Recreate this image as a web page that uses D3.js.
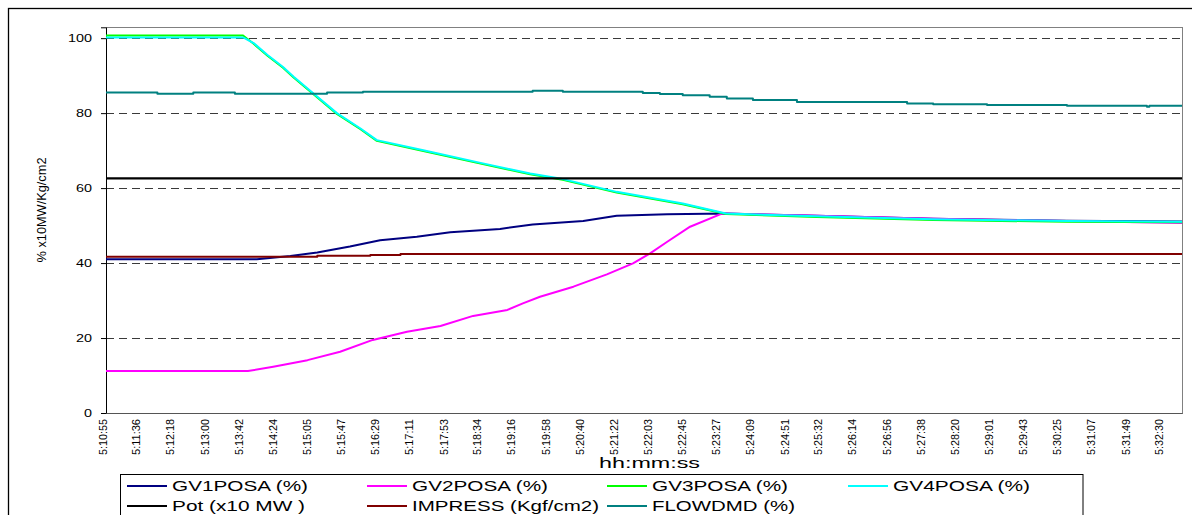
<!DOCTYPE html>
<html>
<head>
<meta charset="utf-8">
<script src="https://cdn.jsdelivr.net/npm/d3@7"></script>
<style>
  html, body { margin: 0; padding: 0; background: #fff; }
  svg { display: block; font-family: "Liberation Sans", Arial, sans-serif; }
</style>
</head>
<body>
<script>
// ---------------- DATA ----------------
const tickTimes = ["5:10:55","5:11:36","5:12:18","5:13:00","5:13:42","5:14:24","5:15:05","5:15:47",
  "5:16:29","5:17:11","5:17:53","5:18:34","5:19:16","5:19:58","5:20:40","5:21:22","5:22:03","5:22:45",
  "5:23:27","5:24:09","5:24:51","5:25:32","5:26:14","5:26:56","5:27:38","5:28:20","5:29:01","5:29:43",
  "5:30:25","5:31:07","5:31:49","5:32:30"];
const timeEnd = "5:32:54";
const yTicks = [0, 20, 40, 60, 80, 100];
const yMax = 102.9;

const gv1Times  = ["5:10:55","5:14:00","5:14:41","5:15:14","5:15:54","5:16:31","5:17:16","5:17:57","5:18:58","5:19:38","5:20:40","5:21:21","5:22:23","5:23:35","5:25:26","5:27:49","5:30:33","5:32:54"];
const gv1Values = [41.0,     41.0,     41.9,     42.8,     44.4,     46.1,     47.0,     48.2,     49.1,     50.3,     51.2,     52.6,     53.0,     53.2,     52.6,     51.8,     51.3,     51.1];

const gv2Times  = ["5:10:55","5:13:49","5:14:20","5:15:02","5:15:42","5:16:22","5:17:04","5:17:45","5:18:25","5:19:07","5:19:26","5:19:47","5:20:28","5:21:09","5:21:41","5:22:02","5:22:23","5:22:51","5:23:30","5:25:26","5:27:49","5:30:33","5:32:54"];
const gv2Values = [11.2,     11.2,     12.35,    14.1,     16.35,    19.5,     21.7,     23.2,     25.9,     27.5,     29.25,    31.0,     33.7,     37.0,     39.9,     42.6,     45.7,     49.7,     53.2,     52.6,     51.8,     51.2,     50.7];

const gv3Times  = ["5:10:55","5:13:43","5:13:56","5:14:13","5:14:32","5:14:45","5:15:09","5:15:38","5:16:07","5:16:27","5:17:24","5:18:37","5:19:35","5:20:15","5:21:21","5:22:42","5:23:35","5:25:26","5:27:49","5:30:33","5:32:54"];
const gv3Values = [100.7,    100.7,    98.5,     95.3,     92.1,     89.5,     85.1,     79.8,     75.7,     72.6,     69.9,     66.4,     63.7,     62.2,     58.8,     55.7,     53.1,     52.3,     51.5,     51.0,     50.9];

const gv4Times  = ["5:10:55","5:13:43","5:13:56","5:14:13","5:14:32","5:14:45","5:15:09","5:15:38","5:16:07","5:16:27","5:17:24","5:18:37","5:19:35","5:20:15","5:21:21","5:22:42","5:23:35","5:25:26","5:27:49","5:30:33","5:32:54"];
const gv4Values = [100.2,    100.2,    98.7,     95.5,     92.3,     89.7,     85.3,     80.0,     75.9,     72.8,     70.1,     66.6,     63.9,     62.4,     59.0,     55.9,     53.2,     52.5,     51.7,     51.2,     51.0];

const potTimes  = ["5:10:55","5:32:54"];
const potValues = [62.6,     62.6];

const impressTimes  = ["5:10:55","5:15:14","5:16:19","5:16:56","5:32:54"];
const impressValues = [41.7,     41.95,    42.15,    42.45,    42.45];

const flowTimes  = ["5:10:55","5:11:58","5:12:42","5:13:33","5:15:26","5:16:10","5:19:38","5:20:15","5:21:53","5:22:14","5:22:42","5:23:15","5:23:36","5:24:08","5:25:02","5:27:17","5:27:49","5:28:55","5:30:33","5:32:11","5:32:14","5:32:54"];
const flowValues = [85.5,     85.15,    85.5,     85.15,    85.5,     85.7,     85.95,    85.7,     85.4,     85.1,     84.8,     84.4,     83.9,     83.5,     83.0,     82.6,     82.4,     82.2,     81.95,    81.7,     81.95,    81.95];

const seriesNames  = ["GV1POSA (%)","GV2POSA (%)","GV3POSA (%)","GV4POSA (%)","Pot (x10 MW )","IMPRESS (Kgf/cm2)","FLOWDMD (%)"];
const seriesColors = ["#000080","#FF00FF","#00FF00","#00FFFF","#000000","#800000","#008080"];

// ---------------- HELPERS ----------------
function secs(s) { const p = s.split(":").map(Number); return p[0]*3600 + p[1]*60 + p[2]; }
function zip(ts, vs) { return ts.map((t, i) => ({ t: secs(t), v: vs[i] })); }

const series = [
  { data: zip(gv1Times, gv1Values), curve: d3.curveLinear },
  { data: zip(gv2Times, gv2Values), curve: d3.curveLinear },
  { data: zip(gv3Times, gv3Values), curve: d3.curveLinear },
  { data: zip(gv4Times, gv4Values), curve: d3.curveLinear },
  { data: zip(potTimes, potValues), curve: d3.curveLinear },
  { data: zip(impressTimes, impressValues), curve: d3.curveStepAfter },
  { data: zip(flowTimes, flowValues), curve: d3.curveStepAfter }
];

// ---------------- LAYOUT ----------------
const W = 1192, H = 515;
const PL = 106, PR = 1182, PT = 27.3, PB = 413;

const svg = d3.select("body").append("svg").attr("width", W).attr("height", H);

// outer chart border
svg.append("rect").attr("x", 8.5).attr("y", 8.5).attr("width", 1200).attr("height", 600)
  .attr("fill", "#fff").attr("stroke", "#000").attr("stroke-width", 1.3);

const x = d3.scaleLinear().domain([secs(tickTimes[0]), secs(timeEnd)]).range([PL, PR]);
const y = d3.scaleLinear().domain([0, yMax]).range([PB, PT]);

// plot area border
svg.append("rect").attr("x", PL + 0.5).attr("y", Math.round(PT) + 0.5)
  .attr("width", PR - PL).attr("height", PB - Math.round(PT))
  .attr("fill", "#fff").attr("stroke", "#808080").attr("stroke-width", 1);

// gridlines
svg.append("g").selectAll("line").data(yTicks.filter(d => d > 0)).join("line")
  .attr("x1", PL).attr("x2", PR)
  .attr("y1", d => Math.round(y(d)) + 0.5).attr("y2", d => Math.round(y(d)) + 0.5)
  .attr("stroke", "#3a3a3a").attr("stroke-width", 1).attr("stroke-dasharray", "8,5");

// y axis
const yAxis = svg.append("g").attr("transform", `translate(${PL},0)`)
  .call(d3.axisLeft(y).tickValues(yTicks).tickSize(5).tickPadding(9).tickFormat(d3.format("d")));
yAxis.select(".domain").attr("stroke", "#000");
yAxis.selectAll(".tick line").attr("stroke", "#000");
yAxis.selectAll(".tick text")
  .attr("font-family", "Liberation Sans, Arial, sans-serif").attr("font-size", 11).attr("fill", "#000")
  .attr("textLength", d => String(d).length * 8).attr("lengthAdjust", "spacingAndGlyphs");

// x axis
const xAxis = svg.append("g").attr("transform", `translate(0,${PB})`)
  .call(d3.axisBottom(x).tickValues(tickTimes.map(secs)).tickSize(0)
    .tickFormat((d, i) => tickTimes[i]));
xAxis.select(".domain").attr("stroke", "#555");
xAxis.selectAll(".tick text")
  .attr("font-family", "Liberation Sans, Arial, sans-serif").attr("font-size", 10.5).attr("fill", "#000")
  .attr("transform", "rotate(-90)")
  .attr("text-anchor", "end")
  .attr("x", -6).attr("y", -3.5).attr("dy", "0.35em")
  .attr("textLength", 36).attr("lengthAdjust", "spacingAndGlyphs");

// axis titles
svg.append("text").attr("x", 649.5).attr("y", 468).attr("text-anchor", "middle")
  .attr("font-size", 15).attr("fill", "#000")
  .attr("textLength", 101).attr("lengthAdjust", "spacingAndGlyphs").text("hh:mm:ss");

svg.append("text").attr("transform", "translate(46,210) rotate(-90)").attr("text-anchor", "middle")
  .attr("font-size", 12).attr("fill", "#000")
  .attr("textLength", 105).attr("lengthAdjust", "spacingAndGlyphs").text("% x10MW/Kg/cm2");

// series lines
const plot = svg.append("g");
series.forEach((s, i) => {
  plot.append("path").datum(s.data)
    .attr("fill", "none").attr("stroke", seriesColors[i])
    .attr("stroke-width", i === 4 ? 2.2 : 2).attr("stroke-linejoin", "round")
    .attr("d", d3.line().x(d => x(d.t)).y(d => y(d.v)).curve(s.curve));
});

// legend
const legend = svg.append("g");
legend.append("rect").attr("x", 120.5).attr("y", 474.5).attr("width", 962.5).attr("height", 80)
  .attr("fill", "#fff").attr("stroke", "#000").attr("stroke-width", 1);
const legCols = [127, 367, 607, 848];
const legTextLen = [136, 136, 136, 137, 133, 187, 143];
const legOrder = [[0, 0, 0], [1, 1, 0], [2, 2, 0], [3, 3, 0], [4, 0, 1], [5, 1, 1], [6, 2, 1]];
legOrder.forEach(([si, col, row]) => {
  const lx = legCols[col], ly = 486 + row * 20;
  legend.append("line").attr("x1", lx).attr("x2", lx + 40).attr("y1", ly).attr("y2", ly)
    .attr("stroke", seriesColors[si]).attr("stroke-width", 2);
  legend.append("text").attr("x", lx + 45).attr("y", ly + 5).attr("font-size", 14.5).attr("fill", "#000")
    .attr("textLength", legTextLen[si]).attr("lengthAdjust", "spacingAndGlyphs").text(seriesNames[si]);
});
</script>
</body>
</html>
